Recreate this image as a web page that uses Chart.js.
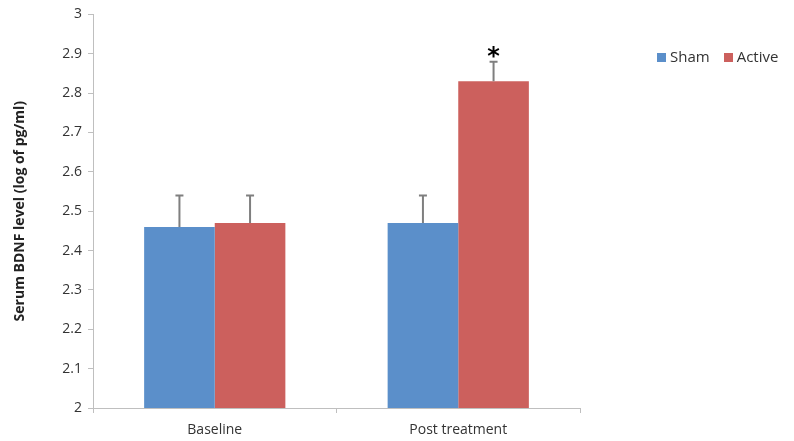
<!DOCTYPE html>
<html>
<head>
<meta charset="utf-8">
<script src="https://cdn.jsdelivr.net/npm/chart.js@4.4.0/dist/chart.umd.min.js"></script>
<style>
  html, body { margin: 0; padding: 0; background: #fff; }
  #wrap { position: relative; width: 794px; height: 441px; }
  #legend { position: absolute; left: 657px; top: 46px; white-space: nowrap; font-family: "Open Sans", sans-serif; font-size: 15px; color: #333; }
  #legend span.item { margin-right: 14px; }
  #legend span.box { display: inline-block; width: 9px; height: 9px; margin-right: 4px; }
</style>
</head>
<body>
<div id="wrap">
  <canvas id="chart" width="794" height="441"></canvas>
  <div id="legend"></div>
</div>
<script>
// data
const categories = ['Baseline', 'Post treatment'];
const shamMeans = [2.46, 2.47];
const activeMeans = [2.47, 2.83];
const shamErrors = [0.08, 0.07];
const activeErrors = [0.07, 0.05];
const yTicks = [2, 2.1, 2.2, 2.3, 2.4, 2.5, 2.6, 2.7, 2.8, 2.9, 3];
const significant = [[false, false], [false, true]]; // [dataset][category]

const shamColor = '#5b8fca';
const activeColor = '#cc605d';
const errors = [shamErrors, activeErrors];

//plugin for the upward error bars and the asterisk
const errorBars = {
  id: 'errorBars',
  afterDatasetsDraw(chart) {
    const ctx = chart.ctx;
    const y = chart.scales.y;
    ctx.save();
    chart.data.datasets.forEach((ds, di) => {
      chart.getDatasetMeta(di).data.forEach((bar, i) => {
        const top = y.getPixelForValue(ds.data[i] + errors[di][i]);
        ctx.strokeStyle = '#7f7f7f';
        ctx.lineWidth = 2;
        ctx.beginPath();
        ctx.moveTo(bar.x, bar.y);
        ctx.lineTo(bar.x, top);
        ctx.moveTo(bar.x - 4, top);
        ctx.lineTo(bar.x + 4, top);
        ctx.stroke();
        if (significant[di][i]) {
          ctx.fillStyle = '#000';
          ctx.font = 'bold 24px "DejaVu Sans", sans-serif';
          ctx.textAlign = 'center';
          ctx.textBaseline = 'bottom';
          ctx.fillText('*', bar.x, top + 8);
        }
      });
    });
    ctx.restore();
  }
};

const tickFont = { family: '"Open Sans", sans-serif', size: 14 };

const chart = new Chart(document.getElementById('chart'), {
  type: 'bar',
  plugins: [errorBars],
  data: {
    labels: categories,
    datasets: [
      { label: 'Sham', data: shamMeans, backgroundColor: shamColor },
      { label: 'Active', data: activeMeans, backgroundColor: activeColor },
    ],
  },
  options: {
    responsive: false,
    animation: false,
    layout: { padding: { top: 13, right: 214, left: 0, bottom: 0 } },
    datasets: { bar: { categoryPercentage: 0.58, barPercentage: 1 } },
    plugins: {
      legend: { display: false },
      tooltip: { enabled: false },
    },
    scales: {
      x: {
        afterFit: s => { s.height = 33; },
        grid: { display: true, drawOnChartArea: false, drawTicks: true, offset: true, tickLength: 5, color: '#bfbfbf' },
        border: { color: '#bfbfbf', width: 1 },
        ticks: { color: '#333', font: tickFont, padding: 9 },
      },
      y: {
        min: 2,
        max: 3,
        afterFit: s => { s.width = 93; },
        afterBuildTicks: s => { s.ticks = yTicks.map(v => ({ value: v })); },
        grid: { display: true, drawOnChartArea: false, drawTicks: true, tickLength: 5, color: '#bfbfbf' },
        border: { color: '#bfbfbf', width: 1 },
        ticks: { color: '#333', font: tickFont, padding: 6, callback: v => String(Number(v.toFixed(1))) },
        title: {
          display: true,
          text: 'Serum BDNF level (log of pg/ml)',
          color: '#222',
          font: { family: '"Open Sans", sans-serif', size: 14, weight: 'bold' },
          padding: { top: 12, bottom: 14 },
        },
      },
    },
  },
});

// legend built from the datasets
document.getElementById('legend').innerHTML = chart.data.datasets
  .map(ds => `<span class="item"><span class="box" style="background:${ds.backgroundColor}"></span>${ds.label}</span>`)
  .join('');
</script>
</body>
</html>
